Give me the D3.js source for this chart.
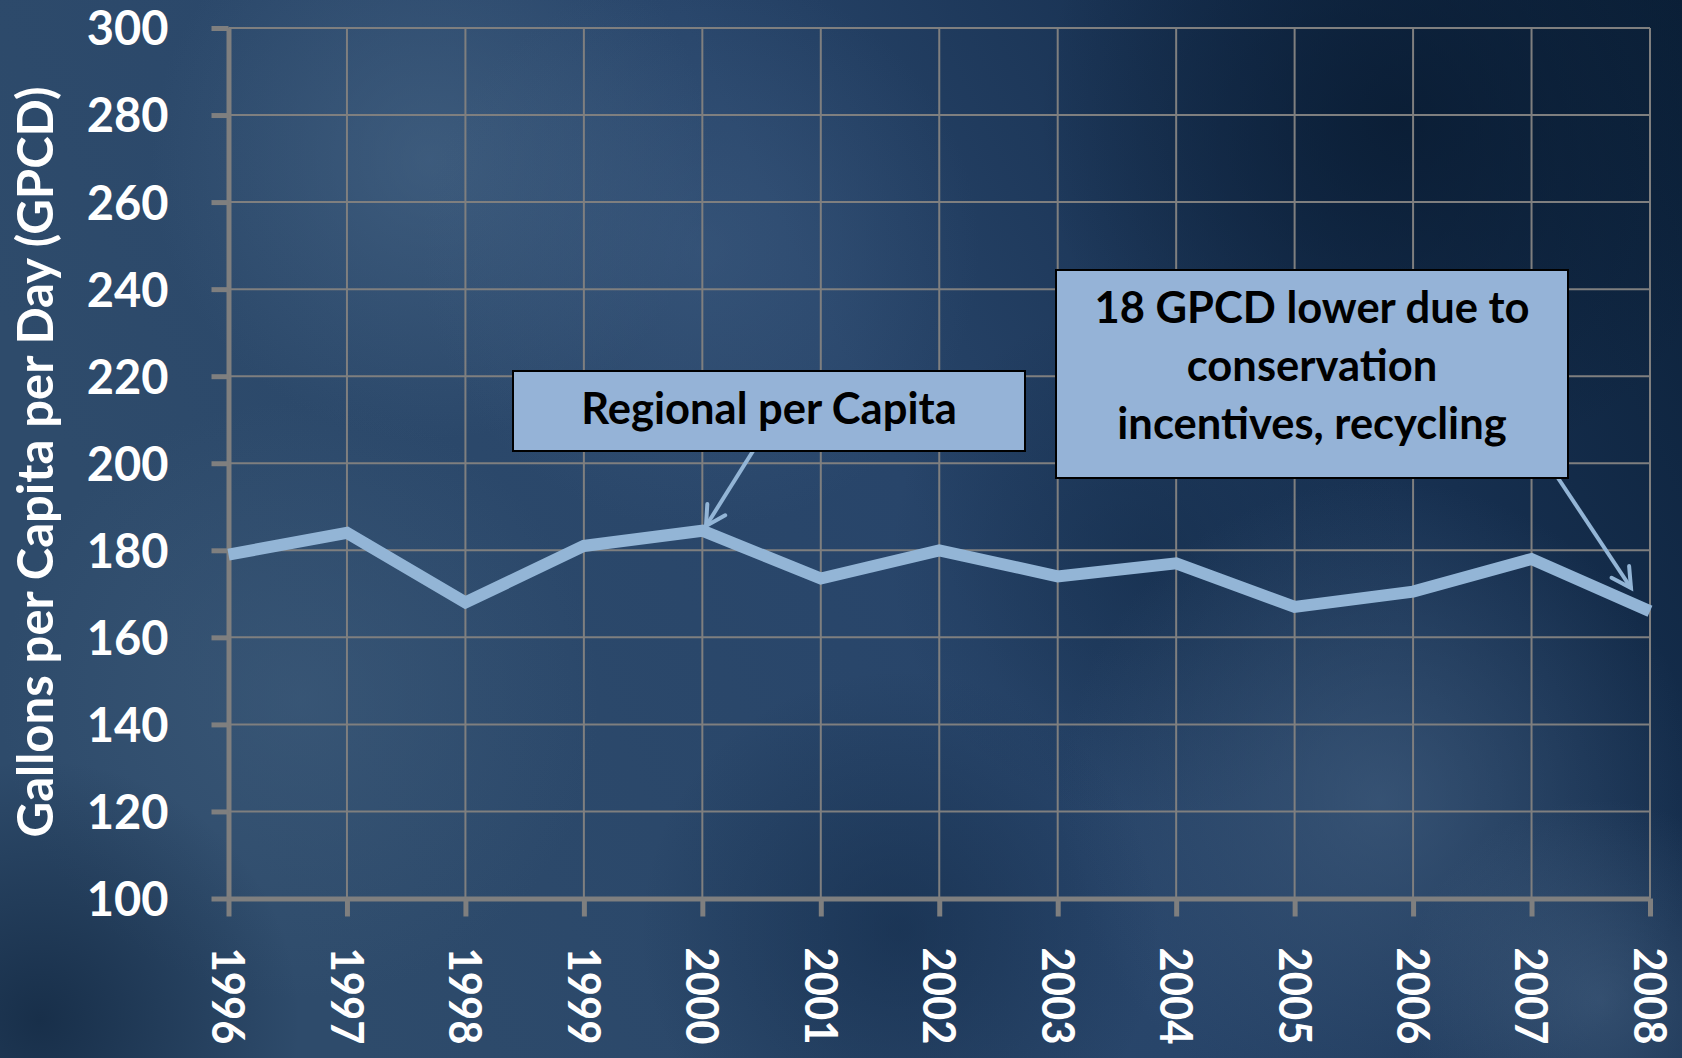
<!DOCTYPE html>
<html><head><meta charset="utf-8">
<script src="https://cdn.jsdelivr.net/npm/d3@7"></script>
<style>html,body{margin:0;padding:0;overflow:hidden;background:#1e3a5a}</style>
</head><body>
<svg id="chart" width="1682" height="1058"></svg>
<script>
const years = ["1996","1997","1998","1999","2000","2001","2002","2003","2004","2005","2006","2007","2008"];
const gpcd = [179, 184, 168, 181, 184.5, 173.5, 180, 174, 177, 167, 170.5, 178, 166];
const yTicks = [100,120,140,160,180,200,220,240,260,280,300];
const yTitle = "Gallons per Capita per Day (GPCD)";
const note1 = ["Regional per Capita"];
const note2 = ["18 GPCD lower due to","conservation","incentives, recycling"];

const W = 1682, H = 1058;
const svg = d3.select("#chart");
const defs = svg.append("defs");

// background
const lg = defs.append("linearGradient").attr("id","bg").attr("x1","0").attr("y1","0.3").attr("x2","1").attr("y2","0");
lg.append("stop").attr("offset","0").attr("stop-color","#2e4b6b");
lg.append("stop").attr("offset","0.45").attr("stop-color","#28456a");
lg.append("stop").attr("offset","0.75").attr("stop-color","#162f4f");
lg.append("stop").attr("offset","1").attr("stop-color","#0b2038");
svg.append("rect").attr("width",W).attr("height",H).attr("fill","url(#bg)");
const blobs = [
  {cx:430,cy:160,r:280,c:"#4c6b8b",o:0.55},
  {cx:700,cy:250,r:280,c:"#46658a",o:0.4},
  {cx:1400,cy:120,r:360,c:"#081a30",o:0.75},
  {cx:1150,cy:560,r:260,c:"#0f2744",o:0.45},
  {cx:300,cy:700,r:300,c:"#42607f",o:0.5},
  {cx:1380,cy:800,r:320,c:"#4a6788",o:0.55},
  {cx:40,cy:1020,r:260,c:"#0c2038",o:0.65},
  {cx:900,cy:930,r:260,c:"#0f2745",o:0.55},
  {cx:1600,cy:1000,r:200,c:"#5a7797",o:0.4}
];
blobs.forEach((b,i)=>{
  const rg = defs.append("radialGradient").attr("id","rg"+i);
  rg.append("stop").attr("offset","0").attr("stop-color",b.c).attr("stop-opacity",b.o);
  rg.append("stop").attr("offset","1").attr("stop-color",b.c).attr("stop-opacity",0);
  svg.append("circle").attr("cx",b.cx).attr("cy",b.cy).attr("r",b.r).attr("fill","url(#rg"+i+")");
});

const x = d3.scalePoint().domain(years).range([228.5, 1650]);
const y = d3.scaleLinear().domain([100,300]).range([898.5, 28]);
const grid = "#7f7f7f";
const font = "Lato, 'Open Sans', sans-serif";

// gridlines
svg.append("g").selectAll("line").data(yTicks).join("line")
  .attr("x1",x.range()[0]).attr("x2",x.range()[1])
  .attr("y1",d=>y(d)).attr("y2",d=>y(d))
  .attr("stroke",grid).attr("stroke-width",2);
svg.append("g").selectAll("line").data(years).join("line")
  .attr("x1",d=>x(d)).attr("x2",d=>x(d))
  .attr("y1",y(300)).attr("y2",y(100))
  .attr("stroke",grid).attr("stroke-width",2);

// axes
const yAxis = svg.append("g").attr("transform",`translate(${x.range()[0]},0)`)
  .call(d3.axisLeft(y).tickValues(yTicks).tickSize(17).tickSizeOuter(0).tickPadding(43));
yAxis.select(".domain").attr("stroke",grid).attr("stroke-width",5);
yAxis.selectAll(".tick line").attr("stroke",grid).attr("stroke-width",5);
yAxis.selectAll(".tick text").attr("fill","#fff").style("font-family",font)
  .style("font-weight","bold").style("font-size","47px").attr("dy","0.36em");

const xAxis = svg.append("g").attr("transform",`translate(0,${y(100)})`)
  .call(d3.axisBottom(x).tickSize(18).tickSizeOuter(0));
xAxis.select(".domain").attr("stroke",grid).attr("stroke-width",5);
xAxis.selectAll(".tick line").attr("stroke",grid).attr("stroke-width",5);
xAxis.selectAll(".tick text").attr("fill","#fff").style("font-family",font)
  .style("font-weight","bold").style("font-size","46px")
  .attr("text-anchor","start").attr("x",0).attr("y",0).attr("dy","0.36em")
  .attr("textLength",97).attr("lengthAdjust","spacingAndGlyphs")
  .attr("transform","translate(0,49) rotate(90)");

// y title
svg.append("text").attr("transform","translate(53,462) rotate(-90)")
  .attr("text-anchor","middle").attr("fill","#fff")
  .style("font-family",font).style("font-weight","bold").style("font-size","49px")
  .text(yTitle);

// line
const lineColor = "#93b5d6";
svg.append("path").datum(gpcd.map((v,i)=>[years[i],v]))
  .attr("d", d3.line().x(d=>x(d[0])).y(d=>y(d[1])))
  .attr("fill","none").attr("stroke",lineColor).attr("stroke-width",12)
  .attr("stroke-linejoin","miter");

// arrows
function arrow(x1,y1,x2,y2){
  const g = svg.append("g");
  g.append("line").attr("x1",x1).attr("y1",y1).attr("x2",x2).attr("y2",y2)
    .attr("stroke",lineColor).attr("stroke-width",4);
  const a = Math.atan2(y2-y1,x2-x1), L=22, s=0.5;
  const p = t=>[x2-L*Math.cos(a+t), y2-L*Math.sin(a+t)];
  const p1=p(s), p2=p(-s);
  g.append("path").attr("d",`M${p1[0]},${p1[1]}L${x2},${y2}L${p2[0]},${p2[1]}`)
    .attr("fill","none").attr("stroke",lineColor).attr("stroke-width",4).attr("stroke-linecap","round");
}
arrow(753,451,706,526);
arrow(1558,478,1631,588);

// callout boxes
function box(x0,y0,w,h,lines,baseline,step){
  svg.append("rect").attr("x",x0).attr("y",y0).attr("width",w).attr("height",h)
    .attr("fill","#95b3d7").attr("stroke","#000").attr("stroke-width",2);
  svg.append("g").selectAll("text").data(lines).join("text")
    .attr("x",x0+w/2).attr("y",(d,i)=>baseline+i*step)
    .attr("text-anchor","middle").attr("fill","#000")
    .style("font-family",font).style("font-weight","bold").style("font-size","43.5px")
    .text(d=>d);
}
box(513,371,512,80,note1,424,0);
box(1056,270,512,208,note2,323,58);
</script>
</body></html>
